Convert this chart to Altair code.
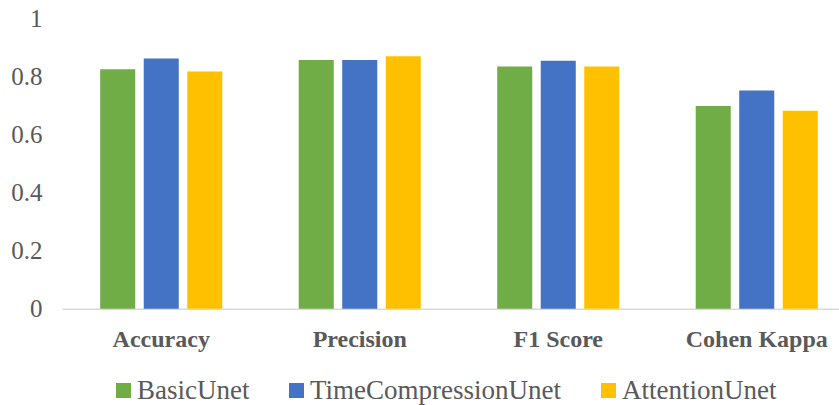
import altair as alt
import pandas as pd

metrics = ["Accuracy", "Precision", "F1 Score", "Cohen Kappa"]
models = ["BasicUnet", "TimeCompressionUnet", "AttentionUnet"]
colors = ["#70AD47", "#4472C4", "#FFC000"]

basic_unet = [0.826, 0.858, 0.835, 0.699]
time_compression_unet = [0.863, 0.858, 0.855, 0.753]
attention_unet = [0.818, 0.871, 0.835, 0.683]

series = dict(zip(models, [basic_unet, time_compression_unet, attention_unet]))
rows = [
    {"metric": m, "model": name, "score": vals[i]}
    for name, vals in series.items()
    for i, m in enumerate(metrics)
]
df = pd.DataFrame(rows)

FONT = "'Times New Roman', 'Liberation Serif', serif"
TEXT = "#595959"

chart = (
    alt.Chart(df)
    .mark_bar()
    .encode(
        x=alt.X(
            "metric:N",
            sort=metrics,
            title=None,
            scale=alt.Scale(range=[0, 794], paddingInner=0.385, paddingOuter=0.1925),
            axis=alt.Axis(
                labelAngle=0,
                labelFont=FONT,
                labelFontSize=24,
                labelFontWeight="bold",
                labelColor=TEXT,
                labelPadding=19,
                ticks=False,
                domainColor="#D9D9D9",
                domainWidth=1.5,
                grid=False,
            ),
        ),
        xOffset=alt.XOffset(
            "model:N",
            sort=models,
            scale=alt.Scale(paddingInner=0.195, paddingOuter=0),
        ),
        y=alt.Y(
            "score:Q",
            title=None,
            scale=alt.Scale(domain=[0, 1], nice=False),
            axis=alt.Axis(
                values=[0, 0.2, 0.4, 0.6, 0.8, 1],
                format="~g",
                labelFont=FONT,
                labelFontSize=25,
                labelColor=TEXT,
                labelPadding=20,
                ticks=False,
                domain=False,
                grid=False,
            ),
        ),
        color=alt.Color(
            "model:N",
            sort=models,
            scale=alt.Scale(domain=models, range=colors),
            legend=alt.Legend(
                title=None,
                orient="none",
                direction="horizontal",
                legendX=48,
                legendY=358,
                symbolType="square",
                symbolSize=225,
                symbolStrokeWidth=0,
                symbolOpacity=1,
                labelFont=FONT,
                labelFontSize=27,
                labelColor=TEXT,
                labelOffset=0,
                labelLimit=0,
                columnPadding=33,
                padding=0,
            ),
        ),
    )
    .properties(
        width=777,
        height=290,
        autosize=alt.AutoSizeParams(type="none"),
        padding={"left": 62, "top": 18.75, "right": 0, "bottom": 96.25},
    )
    .configure(background="white", font=FONT)
    .configure_view(stroke=None)
)

chart.save("out.html", embed_options={"renderer": "svg", "actions": False})
